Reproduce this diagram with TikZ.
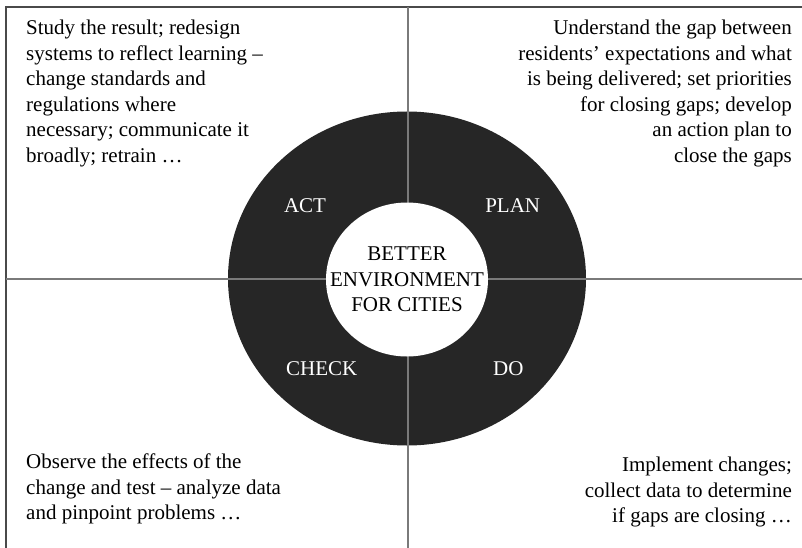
\documentclass[tikz,border=0pt]{standalone}
\usepackage{fontspec}
\setmainfont{Liberation Serif}
\definecolor{ringblack}{HTML}{262626}
\definecolor{crossgray}{HTML}{7A7A7A}
\definecolor{framegray}{HTML}{4A4A4A}
\begin{document}
\begin{tikzpicture}[x=1pt,y=-1pt,
  txt/.style={inner sep=0pt, text=black, font=\fontsize{21}{25.5}\selectfont},
  lbl/.style={inner sep=0pt, text=white, font=\fontsize{21}{25.5}\selectfont, anchor=base},
  crossline/.style={draw=crossgray, line width=2pt},
  frameline/.style={draw=framegray, line width=2pt}]
\useasboundingbox (0,0) rectangle (802,548);
% dark ring (outer disc)
\fill[ringblack] (407,278.5) ellipse [x radius=179, y radius=167];
% frame and cross lines
\draw[frameline] (6,548) -- (6,7) -- (802,7);
\draw[crossline] (6,279) -- (802,279);
\draw[crossline] (407.5,7) -- (407.5,548);
% white centre disc
\fill[white] (407,279.5) ellipse [x radius=81, y radius=77];
\node[inner sep=0pt, align=center, text=black, font=\fontsize{21}{25.5}\selectfont] (hub) at (407,279.5)
  {BETTER\\ENVIRONMENT\\FOR CITIES};
% ring labels
\node[lbl] (act) at (305,212.7) {ACT};
\node[lbl] (plan) at (512.7,212.7) {PLAN};
\node[lbl] (check) at (321.7,375) {CHECK};
\node[lbl] (do) at (508.3,375) {DO};
% corner texts (base anchor = baseline of the last line)
\node[txt, align=left, anchor=base west] (acttext) at (26,162.5)
  {Study the result; redesign\\systems to reflect learning –\\change standards and\\regulations where\\necessary; communicate it\\broadly; retrain …};
\node[txt, align=right, anchor=base east] (plantext) at (792,162.5)
  {Understand the gap between\\residents’ expectations and what\\is being delivered; set priorities\\for closing gaps; develop\\an action plan to\\close the gaps};
\node[txt, align=left, anchor=base west] (checktext) at (26,519.5)
  {Observe the effects of the\\change and test – analyze data\\and pinpoint problems …};
\node[txt, align=right, anchor=base east] (dotext) at (792,522.5)
  {Implement changes;\\collect data to determine\\if gaps are closing …};
\end{tikzpicture}
\end{document}
